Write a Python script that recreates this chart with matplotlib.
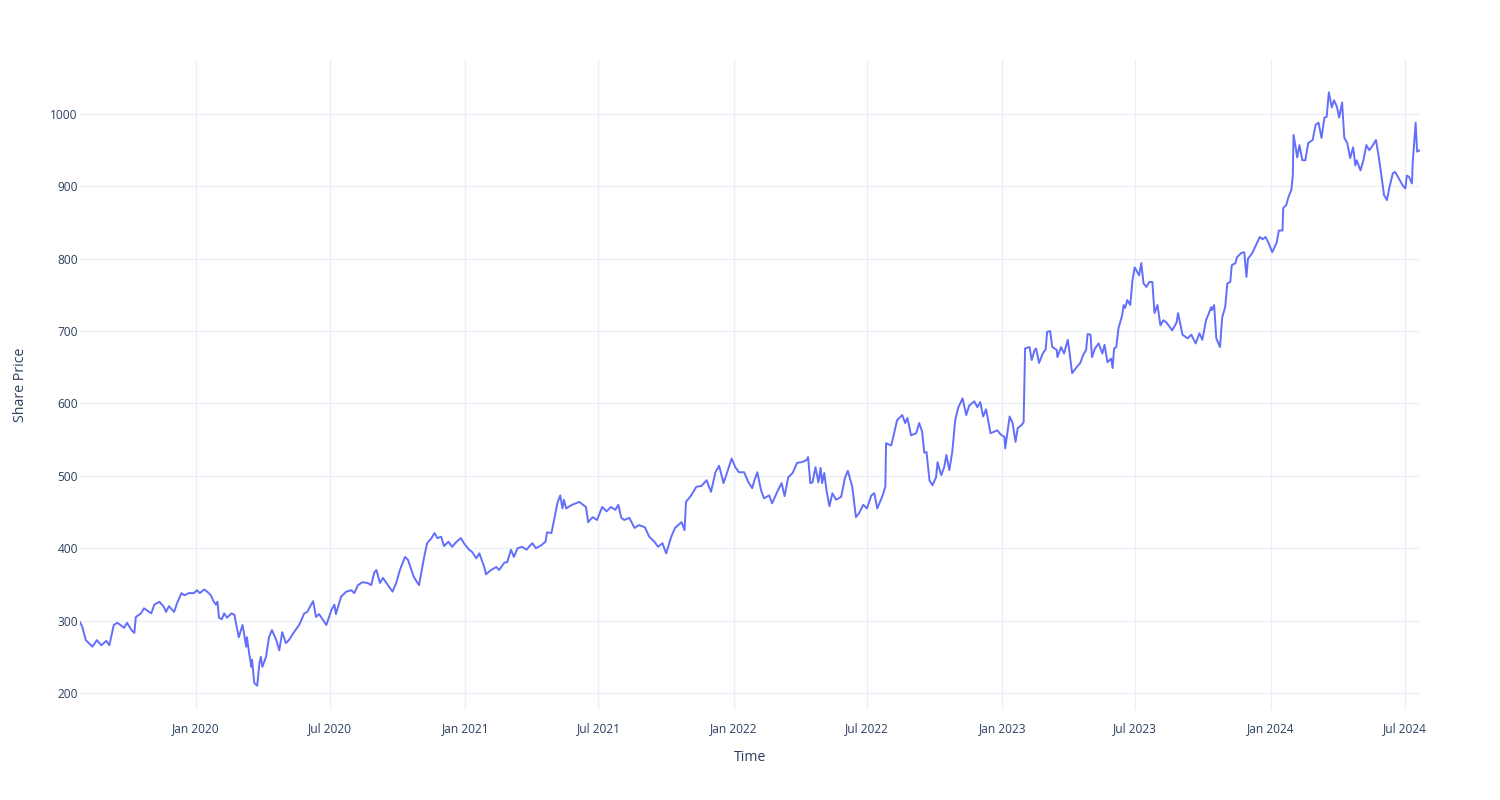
"""
Share price over time, line chart in the plotly_white look.
"""

import matplotlib
matplotlib.use("Agg")
import matplotlib.dates as mdates
import matplotlib.pyplot as plt
import pandas as pd


# one point every few days
DATES = [
    "2019-07-27", "2019-07-30", "2019-08-04", "2019-08-08", "2019-08-13", "2019-08-19",
    "2019-08-25", "2019-09-01", "2019-09-05", "2019-09-11", "2019-09-16", "2019-09-25",
    "2019-09-29", "2019-10-05", "2019-10-09", "2019-10-11", "2019-10-18", "2019-10-22",
    "2019-11-01", "2019-11-05", "2019-11-12", "2019-11-18", "2019-11-21", "2019-11-25",
    "2019-12-02", "2019-12-06", "2019-12-12", "2019-12-16", "2019-12-22", "2019-12-29",
    "2020-01-02", "2020-01-06", "2020-01-12", "2020-01-16", "2020-01-21", "2020-01-25",
    "2020-01-28", "2020-01-30", "2020-02-01", "2020-02-05", "2020-02-08", "2020-02-12",
    "2020-02-18", "2020-02-22", "2020-02-24", "2020-02-28", "2020-03-02", "2020-03-04",
    "2020-03-06", "2020-03-09", "2020-03-10", "2020-03-13", "2020-03-16", "2020-03-17",
    "2020-03-20", "2020-03-24", "2020-03-27", "2020-03-29", "2020-03-31", "2020-04-05",
    "2020-04-09", "2020-04-13", "2020-04-19", "2020-04-23", "2020-04-27", "2020-05-02",
    "2020-05-06", "2020-05-13", "2020-05-20", "2020-05-27", "2020-05-31", "2020-06-08",
    "2020-06-12", "2020-06-16", "2020-06-20", "2020-06-26", "2020-07-03", "2020-07-07",
    "2020-07-09", "2020-07-16", "2020-07-23", "2020-07-30", "2020-08-03", "2020-08-08",
    "2020-08-14", "2020-08-21", "2020-08-26", "2020-08-30", "2020-09-02", "2020-09-07",
    "2020-09-11", "2020-09-15", "2020-09-24", "2020-09-29", "2020-10-04", "2020-10-11",
    "2020-10-15", "2020-10-23", "2020-10-30", "2020-11-06", "2020-11-10", "2020-11-16",
    "2020-11-20", "2020-11-24", "2020-11-29", "2020-12-03", "2020-12-09", "2020-12-14",
    "2020-12-20", "2020-12-26", "2020-12-30", "2021-01-06", "2021-01-10", "2021-01-16",
    "2021-01-20", "2021-01-27", "2021-01-29", "2021-02-05", "2021-02-12", "2021-02-16",
    "2021-02-23", "2021-02-27", "2021-03-04", "2021-03-08", "2021-03-13", "2021-03-19",
    "2021-03-25", "2021-04-02", "2021-04-07", "2021-04-14", "2021-04-20", "2021-04-22",
    "2021-04-28", "2021-05-03", "2021-05-06", "2021-05-10", "2021-05-13", "2021-05-15",
    "2021-05-18", "2021-05-26", "2021-06-05", "2021-06-14", "2021-06-17", "2021-06-23",
    "2021-06-29", "2021-07-06", "2021-07-12", "2021-07-18", "2021-07-24", "2021-07-28",
    "2021-08-01", "2021-08-05", "2021-08-12", "2021-08-19", "2021-08-25", "2021-09-02",
    "2021-09-08", "2021-09-15", "2021-09-20", "2021-09-26", "2021-10-01", "2021-10-08",
    "2021-10-13", "2021-10-22", "2021-10-26", "2021-10-28", "2021-11-04", "2021-11-11",
    "2021-11-18", "2021-11-25", "2021-12-01", "2021-12-07", "2021-12-12", "2021-12-18",
    "2021-12-23", "2021-12-29", "2022-01-03", "2022-01-08", "2022-01-15", "2022-01-21",
    "2022-01-26", "2022-01-29", "2022-02-02", "2022-02-07", "2022-02-11", "2022-02-18",
    "2022-02-22", "2022-03-01", "2022-03-07", "2022-03-11", "2022-03-16", "2022-03-22",
    "2022-03-28", "2022-04-04", "2022-04-10", "2022-04-12", "2022-04-15", "2022-04-18",
    "2022-04-22", "2022-04-26", "2022-04-29", "2022-05-01", "2022-05-04", "2022-05-07",
    "2022-05-11", "2022-05-15", "2022-05-20", "2022-05-27", "2022-06-01", "2022-06-05",
    "2022-06-11", "2022-06-16", "2022-06-20", "2022-06-26", "2022-07-01", "2022-07-07",
    "2022-07-11", "2022-07-15", "2022-07-22", "2022-07-26", "2022-07-27", "2022-08-03",
    "2022-08-07", "2022-08-11", "2022-08-18", "2022-08-22", "2022-08-25", "2022-08-30",
    "2022-09-06", "2022-09-10", "2022-09-14", "2022-09-17", "2022-09-20", "2022-09-24",
    "2022-09-28", "2022-10-03", "2022-10-05", "2022-10-10", "2022-10-14", "2022-10-17",
    "2022-10-21", "2022-10-25", "2022-10-29", "2022-11-02", "2022-11-08", "2022-11-13",
    "2022-11-17", "2022-11-24", "2022-11-28", "2022-12-02", "2022-12-06", "2022-12-10",
    "2022-12-16", "2022-12-21", "2022-12-25", "2022-12-31", "2023-01-04", "2023-01-05",
    "2023-01-11", "2023-01-15", "2023-01-19", "2023-01-22", "2023-01-27", "2023-01-30",
    "2023-02-01", "2023-02-07", "2023-02-10", "2023-02-14", "2023-02-16", "2023-02-20",
    "2023-02-25", "2023-03-01", "2023-03-03", "2023-03-07", "2023-03-10", "2023-03-16",
    "2023-03-17", "2023-03-22", "2023-03-26", "2023-03-31", "2023-04-02", "2023-04-06",
    "2023-04-12", "2023-04-17", "2023-04-21", "2023-04-25", "2023-04-27", "2023-05-01",
    "2023-05-03", "2023-05-07", "2023-05-12", "2023-05-17", "2023-05-20", "2023-05-24",
    "2023-05-29", "2023-05-31", "2023-06-02", "2023-06-05", "2023-06-08", "2023-06-13",
    "2023-06-15", "2023-06-17", "2023-06-20", "2023-06-24", "2023-06-27", "2023-06-30",
    "2023-07-04", "2023-07-06", "2023-07-09", "2023-07-12", "2023-07-16", "2023-07-20",
    "2023-07-24", "2023-07-27", "2023-07-31", "2023-08-04", "2023-08-08", "2023-08-12",
    "2023-08-18", "2023-08-20", "2023-08-26", "2023-08-28", "2023-09-03", "2023-09-10",
    "2023-09-15", "2023-09-21", "2023-09-26", "2023-09-30", "2023-10-05", "2023-10-09",
    "2023-10-12", "2023-10-13", "2023-10-16", "2023-10-19", "2023-10-24", "2023-10-27",
    "2023-10-31", "2023-11-03", "2023-11-07", "2023-11-09", "2023-11-14", "2023-11-16",
    "2023-11-22", "2023-11-26", "2023-11-29", "2023-12-01", "2023-12-07", "2023-12-12",
    "2023-12-17", "2023-12-21", "2023-12-25", "2023-12-29", "2024-01-03", "2024-01-09",
    "2024-01-12", "2024-01-17", "2024-01-18", "2024-01-22", "2024-01-25", "2024-01-29",
    "2024-01-31", "2024-02-01", "2024-02-04", "2024-02-06", "2024-02-09", "2024-02-13",
    "2024-02-17", "2024-02-21", "2024-02-27", "2024-03-02", "2024-03-06", "2024-03-10",
    "2024-03-14", "2024-03-17", "2024-03-20", "2024-03-24", "2024-03-27", "2024-03-31",
    "2024-04-03", "2024-04-07", "2024-04-10", "2024-04-14", "2024-04-18", "2024-04-22",
    "2024-04-25", "2024-04-27", "2024-05-02", "2024-05-06", "2024-05-10", "2024-05-14",
    "2024-05-19", "2024-05-23", "2024-05-27", "2024-05-31", "2024-06-03", "2024-06-07",
    "2024-06-10", "2024-06-15", "2024-06-18", "2024-06-22", "2024-06-28", "2024-07-02",
    "2024-07-04", "2024-07-07", "2024-07-11", "2024-07-12", "2024-07-16", "2024-07-18",
    "2024-07-22",
]

PRICES = [
    298, 292, 273, 269, 264, 273,
    266, 272, 266, 294, 297, 290,
    297, 287, 283, 305, 310, 317,
    310, 322, 326, 319, 312, 320,
    312, 324, 338, 335, 338, 338,
    342, 338, 343, 340, 335, 326,
    322, 326, 304, 302, 310, 304,
    310, 308, 297, 277, 287, 294,
    283, 264, 277, 255, 236, 246,
    214, 210, 241, 250, 236, 250,
    277, 287, 273, 259, 284, 269,
    273, 284, 294, 310, 312, 327,
    305, 309, 303, 294, 315, 322,
    309, 333, 340, 342, 338, 349,
    353, 352, 349, 366, 370, 352,
    359, 353, 340, 352, 370, 388,
    384, 360, 349, 388, 407, 414,
    421, 414, 416, 403, 409, 402,
    409, 414, 407, 398, 395, 386,
    393, 373, 364, 370, 374, 370,
    380, 381, 398, 388, 400, 402,
    398, 407, 400, 404, 409, 422,
    421, 446, 462, 473, 455, 467,
    455, 460, 464, 457, 436, 443,
    439, 457, 451, 457, 453, 460,
    442, 439, 442, 428, 432, 429,
    416, 409, 402, 407, 393, 416,
    428, 436, 425, 464, 473, 485,
    486, 494, 478, 505, 514, 490,
    505, 524, 512, 505, 505, 491,
    483, 494, 505, 480, 469, 473,
    462, 478, 490, 472, 498, 504,
    518, 519, 522, 526, 490, 491,
    512, 491, 511, 490, 504, 480,
    458, 476, 467, 471, 497, 507,
    485, 443, 448, 460, 455, 473,
    476, 455, 472, 485, 545, 542,
    559, 577, 584, 573, 580, 556,
    559, 573, 561, 532, 533, 494,
    487, 498, 519, 501, 512, 529,
    508, 533, 577, 594, 607, 584,
    597, 603, 595, 602, 582, 592,
    559, 561, 563, 556, 554, 538,
    582, 573, 547, 566, 570, 574,
    676, 678, 660, 674, 676, 656,
    669, 675, 699, 700, 678, 674,
    664, 678, 669, 688, 674, 642,
    650, 656, 667, 674, 696, 695,
    664, 676, 683, 669, 681, 657,
    662, 649, 676, 678, 704, 722,
    736, 732, 743, 736, 770, 788,
    781, 777, 794, 766, 761, 768,
    768, 725, 736, 708, 715, 712,
    704, 701, 712, 725, 695, 690,
    695, 683, 697, 688, 715, 725,
    733, 729, 736, 690, 678, 719,
    733, 766, 768, 791, 794, 802,
    808, 809, 775, 800, 808, 819,
    830, 827, 830, 822, 809, 822,
    839, 839, 870, 874, 885, 895,
    915, 971, 953, 940, 957, 936,
    936, 960, 964, 985, 988, 967,
    995, 996, 1030, 1009, 1019, 1010,
    995, 1016, 967, 960, 939, 954,
    929, 936, 922, 936, 957, 950,
    957, 964, 940, 911, 888, 881,
    897, 918, 920, 913, 902, 897,
    915, 913, 904, 932, 988, 948,
    950,
]

Y_TICKS = [200, 300, 400, 500, 600, 700, 800, 900, 1000]
Y_RANGE = (176.5, 1074.6)

LINE_COLOR = "#636EFA"
GRID_COLOR = "#EBF0F8"
TEXT_COLOR = "#2a3f5f"

plt.rcParams["font.family"] = ["Open Sans", "DejaVu Sans"]


def build_figure(dates, prices):
    """
    draws the price line and returns the Figure
    """
    fig = plt.figure(figsize=(15, 8), dpi=100)
    ax = fig.add_axes([0.0533, 0.1125, 0.8934, 0.8125])

    ax.plot(dates, prices, color=LINE_COLOR, lw=1.4, solid_joinstyle="round")

    ax.set_xlim(dates.min(), dates.max())
    ax.set_ylim(*Y_RANGE)
    ax.set_yticks(Y_TICKS)

    ax.xaxis.set_major_locator(mdates.MonthLocator(bymonth=[1, 7]))
    ax.xaxis.set_major_formatter(mdates.DateFormatter("%b %Y"))

    ax.grid(True, color=GRID_COLOR, lw=1.0)
    ax.set_axisbelow(True)
    for side in ax.spines.values():
        side.set_visible(False)

    ax.tick_params(axis="both", length=0, labelsize=8.6, labelcolor=TEXT_COLOR)
    ax.tick_params(axis="x", pad=8.6)
    ax.tick_params(axis="y", pad=1.5)

    ax.set_xlabel("Time", fontsize=10.2, color=TEXT_COLOR)
    ax.set_ylabel("Share Price", fontsize=10.2, color=TEXT_COLOR)
    ax.xaxis.set_label_coords(0.5, -0.062)
    ax.yaxis.set_label_coords(-0.0388, 0.5)
    return fig


dates = pd.to_datetime(pd.Series(DATES))
prices = pd.Series(PRICES, dtype=float)

fig = build_figure(dates, prices)
fig.savefig("out.png", dpi=100)
